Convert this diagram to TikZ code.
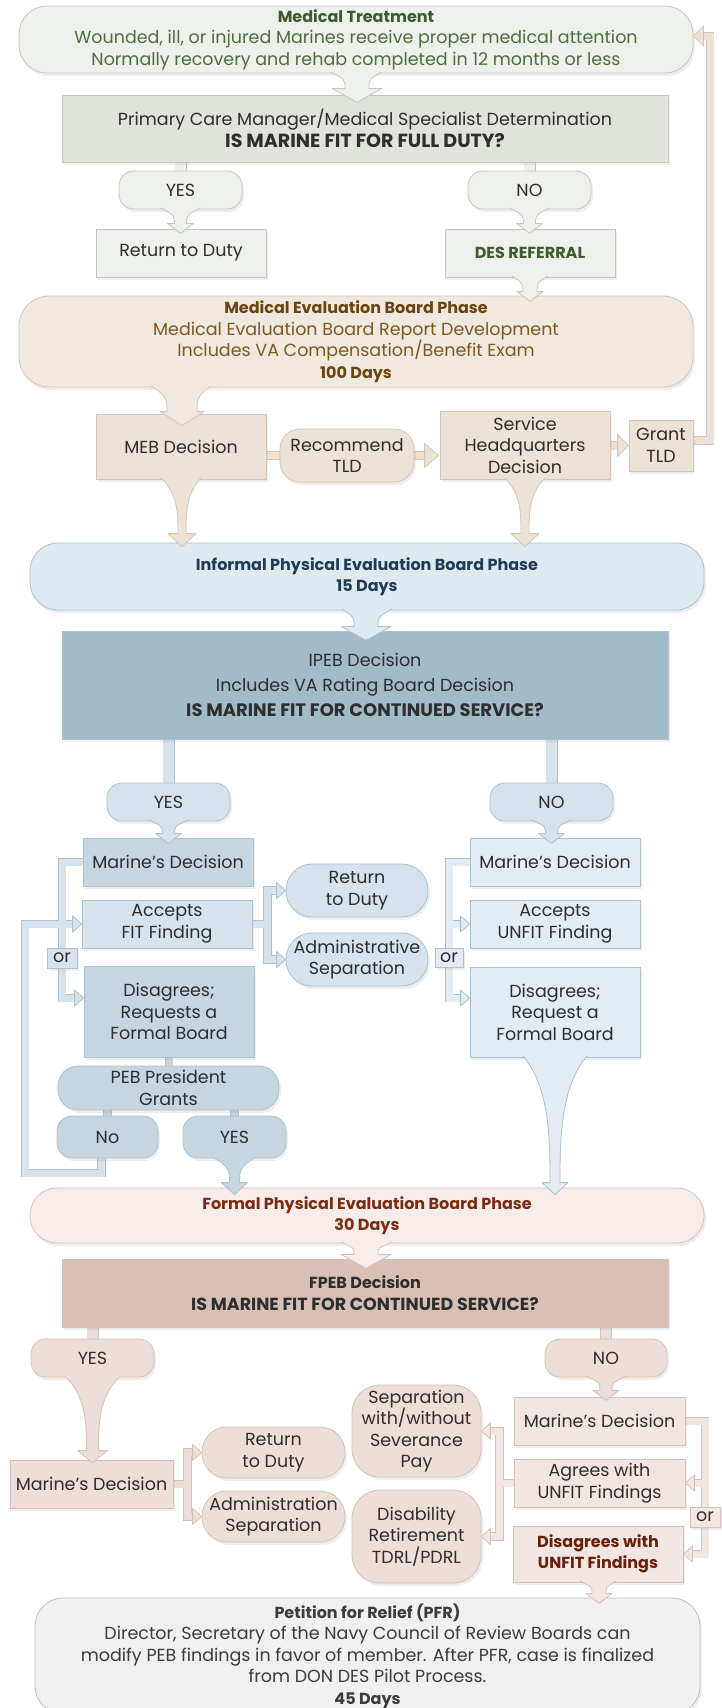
\documentclass[tikz,border=0pt]{standalone}
\usepackage{fontspec}
\setmainfont{Poppins}
\usetikzlibrary{calc,shadows}
\pgfdeclarelayer{bg}
\pgfsetlayers{bg,main}
\definecolor{gF}{HTML}{EEF0EC}
\definecolor{gF2}{HTML}{DFE3DB}
\definecolor{gB}{HTML}{C3C7BF}
\definecolor{gT}{HTML}{4E6E3E}
\definecolor{gTT}{HTML}{3C5C2C}
\definecolor{mF}{HTML}{F1E8DF}
\definecolor{mF2}{HTML}{ECE2D6}
\definecolor{mB}{HTML}{D2C6B9}
\definecolor{mT}{HTML}{7D5A22}
\definecolor{mTT}{HTML}{6B4510}
\definecolor{bF}{HTML}{DFE9F0}
\definecolor{bF2}{HTML}{A1BBC9}
\definecolor{bF3}{HTML}{C5D6E1}
\definecolor{bF4}{HTML}{D6E3EC}
\definecolor{bF5}{HTML}{E3ECF2}
\definecolor{bB}{HTML}{AFC1CD}
\definecolor{bT}{HTML}{1E3B58}
\definecolor{rF}{HTML}{F6EDEA}
\definecolor{rF2}{HTML}{D9C0B4}
\definecolor{rF3}{HTML}{EDDED7}
\definecolor{rF4}{HTML}{F1E6E1}
\definecolor{rB}{HTML}{D3C2BA}
\definecolor{rT}{HTML}{7B2C12}
\definecolor{rTT}{HTML}{6A1F0A}
\definecolor{pF}{HTML}{F0F0F0}
\definecolor{pB}{HTML}{C0C0C0}
\definecolor{pT}{HTML}{3C3C3C}
\definecolor{tx}{HTML}{2E2E2E}
\newcommand\fs{\fontsize{17.5}{21.5}\selectfont}
\newcommand\bt{\bfseries\fontsize{16}{21.5}\selectfont}
\newcommand\pipes[3]{\draw[#2, line width=8.6pt] #3; \draw[#1, line width=7pt] #3;}
\newcommand\pipesw[3]{\draw[#2, line width=12pt] #3; \draw[#1, line width=10.4pt] #3;}
\newcommand\ahead[6]{\filldraw[fill=#3, draw=#4, line width=0.8pt, line join=round, shift={(#1)}, rotate=#2] (0,0) -- (-#6,-#5) -- (-#6,#5) -- cycle;}
\newcommand\funnel[8]{%
 \fill[#1] let \p1=(#3), \p2=(#4) in (\x1-#5pt,\y1+1.5pt) .. controls (\x2-#6pt,{\y1-0.22*(\y1-\y2)}) and (\x2-#6pt,{\y2+#8pt+0.3*(\y1-\y2)}) .. (\x2-#6pt,\y2+#8pt) -- (\x2-#7pt,\y2+#8pt) -- (\x2,\y2) -- (\x2+#7pt,\y2+#8pt) -- (\x2+#6pt,\y2+#8pt) .. controls (\x2+#6pt,{\y2+#8pt+0.3*(\y1-\y2)}) and (\x2+#6pt,{\y1-0.22*(\y1-\y2)}) .. (\x1+#5pt,\y1+1.5pt) -- cycle;
 \draw[#2, line width=0.8pt, line join=round] let \p1=(#3), \p2=(#4) in (\x1-#5pt,\y1+1.5pt) .. controls (\x2-#6pt,{\y1-0.22*(\y1-\y2)}) and (\x2-#6pt,{\y2+#8pt+0.3*(\y1-\y2)}) .. (\x2-#6pt,\y2+#8pt) -- (\x2-#7pt,\y2+#8pt) -- (\x2,\y2) -- (\x2+#7pt,\y2+#8pt) -- (\x2+#6pt,\y2+#8pt) .. controls (\x2+#6pt,{\y2+#8pt+0.3*(\y1-\y2)}) and (\x2+#6pt,{\y1-0.22*(\y1-\y2)}) .. (\x1+#5pt,\y1+1.5pt);}
\tikzset{
 bx/.style 2 args={draw=#2, fill=#1, line width=0.8pt, inner sep=0pt, align=center, text=tx, font=\fs,
   drop shadow={opacity=0.13, shadow xshift=2pt, shadow yshift=-3pt}},
}
\begin{document}
\begin{tikzpicture}[x=1pt,y=-1pt]
\useasboundingbox (0,0) rectangle (722,1708);
\begin{pgfonlayer}{bg}
\fill[white] (0,0) rectangle (722,1708);
\end{pgfonlayer}
% ---------- green
\node[bx={gF}{gB}, rounded corners=28pt, minimum width=674pt, minimum height=67pt, text=gT] (med) at (356,39.5) {{\bt\color{gTT}Medical Treatment}\\Wounded, ill, or injured Marines receive proper medical attention\\Normally recovery and rehab completed in 12 months or less};
\node[bx={gF2}{gB}, minimum width=606pt, minimum height=67pt] (pcm) at (365,128.5) {Primary Care Manager/Medical Specialist Determination\\{\bfseries\fontsize{19}{21.5}\selectfont IS MARINE FIT FOR FULL DUTY?}};
\node[bx={gF}{gB}, rounded corners=15pt, minimum width=123pt, minimum height=38pt] (yes1) at (180.5,190) {YES};
\node[bx={gF}{gB}, rounded corners=15pt, minimum width=123pt, minimum height=38pt] (no1) at (529.5,190) {NO};
\node[bx={gF}{gB}, minimum width=170pt, minimum height=48pt] (rtd1) at (181,253) {Return to Duty};
\node[bx={gF}{gB}, minimum width=170pt, minimum height=48pt, text=gTT, font=\fs\bt] (des) at (530,253) {DES REFERRAL};
% ---------- MEB
\node[bx={mF}{mB}, rounded corners=30pt, minimum width=674pt, minimum height=91pt, text=mT] (meb) at (356,341.5) {{\bt\color{mTT}Medical Evaluation Board Phase}\\Medical Evaluation Board Report Development\\Includes VA Compensation/Benefit Exam\\{\bt\color{mTT}100 Days}};
\node[bx={mF2}{mB}, minimum width=170pt, minimum height=65pt] (mebd) at (181,446.5) {MEB Decision};
\node[bx={mF2}{mB}, rounded corners=20pt, minimum width=134pt, minimum height=53pt] (rtld) at (347,455.5) {Recommend\\TLD};
\node[bx={mF2}{mB}, minimum width=170pt, minimum height=68pt] (shq) at (525,445) {Service\\Headquarters\\Decision};
\node[bx={mF2}{mB}, minimum width=64pt, minimum height=51pt] (gtld) at (661,445.5) {Grant\\TLD};
% ---------- IPEB
\node[bx={bF}{bB}, rounded corners=28pt, minimum width=674pt, minimum height=67pt, text=bT, font=\fs\bt] (ipeb) at (367,576.5) {Informal Physical Evaluation Board Phase\\15 Days};
\node[bx={bF2}{bB}, minimum width=606pt, minimum height=108pt, font=\fontsize{17.5}{25}\selectfont] (ipebd) at (365,685) {IPEB Decision\\Includes VA Rating Board Decision\\{\bfseries\fontsize{18}{25}\selectfont IS MARINE FIT FOR CONTINUED SERVICE?}};
\node[bx={bF4}{bB}, rounded corners=15pt, minimum width=123pt, minimum height=38pt] (yes2) at (168.5,802) {YES};
\node[bx={bF4}{bB}, rounded corners=15pt, minimum width=123pt, minimum height=38pt] (no2) at (551.5,802) {NO};
\node[bx={bF3}{bB}, minimum width=170pt, minimum height=48pt] (md2L) at (168,862) {Marine's Decision};
\node[bx={bF4}{bB}, minimum width=170pt, minimum height=48pt] (acc2L) at (167,924) {Accepts\\FIT Finding};
\node[bx={bF3}{bB}, minimum width=170pt, minimum height=91pt] (dis2L) at (169,1011.5) {Disagrees;\\Requests a\\Formal Board};
\node[bx={bF4}{bB}, minimum width=30pt, minimum height=20pt] (orL) at (62,958) {or};
\node[bx={bF3}{bB}, rounded corners=20pt, minimum width=221pt, minimum height=44pt] (peb) at (168.5,1088) {PEB President\\Grants};
\node[bx={bF3}{bB}, rounded corners=15pt, minimum width=101pt, minimum height=42pt] (noP) at (107.5,1137) {No};
\node[bx={bF3}{bB}, rounded corners=15pt, minimum width=103pt, minimum height=42pt] (yesP) at (234.5,1137) {YES};
\node[bx={bF4}{bB}, rounded corners=26pt, minimum width=142pt, minimum height=53pt] (rtd2) at (357,890.5) {Return\\to Duty};
\node[bx={bF4}{bB}, rounded corners=26pt, minimum width=142pt, minimum height=53pt] (as2) at (357,959.5) {Administrative\\Separation};
\node[bx={bF5}{bB}, minimum width=170pt, minimum height=48pt] (md2R) at (555,862) {Marine's Decision};
\node[bx={bF5}{bB}, minimum width=170pt, minimum height=48pt] (acc2R) at (555,924) {Accepts\\UNFIT Finding};
\node[bx={bF5}{bB}, minimum width=170pt, minimum height=90pt] (dis2R) at (555,1012) {Disagrees;\\Request a\\Formal Board};
\node[bx={bF5}{bB}, minimum width=28pt, minimum height=19pt] (orR) at (449,957.5) {or};
% ---------- FPEB
\node[bx={rF}{rB}, rounded corners=27pt, minimum width=674pt, minimum height=55pt, text=rT, font=\fs\bt] (fpeb) at (367,1215.5) {Formal Physical Evaluation Board Phase\\30 Days};
\node[bx={rF2}{rB}, minimum width=606pt, minimum height=68pt, font=\fs\bt] (fpebd) at (365,1293) {FPEB Decision\\{\fontsize{17.5}{21.5}\selectfont IS MARINE FIT FOR CONTINUED SERVICE?}};
\node[bx={rF3}{rB}, rounded corners=15pt, minimum width=123pt, minimum height=38pt] (yes3) at (92.5,1358) {YES};
\node[bx={rF3}{rB}, rounded corners=15pt, minimum width=122pt, minimum height=38pt] (no3) at (606,1358) {NO};
\node[bx={rF3}{rB}, minimum width=163pt, minimum height=48pt] (md3L) at (91.5,1484) {Marine's Decision};
\node[bx={rF3}{rB}, rounded corners=25pt, minimum width=143pt, minimum height=51pt] (rtd3) at (273.5,1452.5) {Return\\to Duty};
\node[bx={rF3}{rB}, rounded corners=25pt, minimum width=143pt, minimum height=51pt] (as3) at (273.5,1516.5) {Administration\\Separation};
\node[bx={rF3}{rB}, rounded corners=28pt, minimum width=129pt, minimum height=92pt] (sep3) at (416.5,1431) {Separation\\with/without\\Severance\\Pay};
\node[bx={rF3}{rB}, rounded corners=28pt, minimum width=129pt, minimum height=93pt] (dr3) at (416.5,1536.5) {Disability\\Retirement\\TDRL/PDRL};
\node[bx={rF4}{rB}, minimum width=171pt, minimum height=48pt] (md3R) at (599.5,1421) {Marine's Decision};
\node[bx={rF4}{rB}, minimum width=171pt, minimum height=48pt] (ag3) at (599.5,1483) {Agrees with\\UNFIT Findings};
\node[bx={rF4}{rB}, minimum width=170pt, minimum height=56pt, text=rTT, font=\fs\bt] (dg3) at (598,1554) {Disagrees with\\UNFIT Findings};
\node[bx={rF4}{rB}, minimum width=30pt, minimum height=20pt] (or3) at (705,1517) {or};
% ---------- PFR
\node[bx={pF}{pB}, rounded corners=28pt, minimum width=665pt, minimum height=116pt, text=pT, font=\fontsize{17.5}{21.5}\selectfont] (pfr) at (367.5,1656) {{\bt Petition for Relief (PFR)}\\Director, Secretary of the Navy Council of Review Boards can\\modify PEB findings in favor of member. After PFR, case is finalized\\from DON DES Pilot Process.\\{\bt 45 Days}};
% ---------- pipes
\begin{pgfonlayer}{bg}
\pipesw{gF}{gB}{($(pcm.south -| yes1.north)+(0,-3)$) -- ($(yes1.north)+(0,3)$) ($(pcm.south -| no1.north)+(0,-3)$) -- ($(no1.north)+(0,3)$)}
\pipes{mF2}{mB}{($(mebd.east |- rtld.west)+(-3,0)$) -- ($(rtld.west)+(3,0)$)}
\pipes{mF2}{mB}{($(rtld.east)+(-3,0)$) -- ($(shq.west |- rtld.east)+(-8,0)$) ($(shq.east)+(-3,0)$) -- ($(gtld.west)+(-7,0)$)}
\coordinate (fb) at (710,36);
\pipes{mF2}{mB}{($(gtld.east)+(-3,-5)$) -| (fb) -- ($(med.east |- fb)+(7,0)$)}
\pipesw{bF4}{bB}{($(ipebd.south -| yes2.north)+(0,-3)$) -- ($(yes2.north)+(0,3)$) ($(ipebd.south -| no2.north)+(0,-3)$) -- ($(no2.north)+(0,3)$)}
\coordinate (dLin) at ($(dis2L.west)+(0,-13.5)$);
\coordinate (dRin) at ($(dis2R.west)+(0,-14)$);
\coordinate (loopA) at (25,1173);
\pipes{bF4}{bB}{($(md2L.west)+(3,0)$) -| (orL |- dLin) -- ($(dLin)+(-6,0)$) (orL |- acc2L.west) -- ($(acc2L.west)+(-6,0)$) ($(noP.south)+(-6,-4)$) |- (loopA) |- (orL |- acc2L.west)}
\pipes{bF5}{bB}{($(md2R.west)+(3,0)$) -| (orR |- dRin) -- ($(dRin)+(-6,0)$) (orR |- acc2R.west) -- ($(acc2R.west)+(-6,0)$)}
\coordinate (jL) at ($(acc2L.east)+(15,0)$);
\pipes{bF4}{bB}{($(acc2L.east)+(-3,0)$) -- (jL) ($(rtd2.west)+(-6,0)$) -| (jL |- as2.west) -- ($(as2.west)+(-6,0)$)}
\pipes{bF3}{bB}{($(dis2L.south)+(0,-3)$) -- ($(peb.north -| dis2L.south)+(0,3)$) ($(noP.north |- peb.south)+(0,-3)$) -- ($(noP.north)+(0,3)$) ($(yesP.north |- peb.south)+(0,-3)$) -- ($(yesP.north)+(0,3)$)}
\pipesw{rF3}{rB}{($(fpebd.south -| yes3.north)+(0,-3)$) -- ($(yes3.north)+(0,3)$) ($(fpebd.south -| no3.north)+(0,-3)$) -- ($(no3.north)+(0,3)$)}
\coordinate (j3) at ($(md3L.east)+(14,0)$);
\pipes{rF3}{rB}{($(md3L.east)+(-3,0)$) -- (j3) ($(rtd3.west)+(-6,0)$) -| (j3 |- as3.west) -- ($(as3.west)+(-6,0)$)}
\pipes{rF4}{rB}{($(md3R.east)+(-3,0)$) -| (or3 |- dg3.east) -- ($(dg3.east)+(6,0)$) (or3 |- ag3.east) -- ($(ag3.east)+(6,0)$)}
\coordinate (j5) at ($(ag3.west)+(-14,0)$);
\pipes{rF4}{rB}{($(ag3.west)+(3,0)$) -- (j5) ($(sep3.east)+(6,0)$) -| (j5 |- dr3.east) -- ($(dr3.east)+(6,0)$)}
\end{pgfonlayer}
% ---------- arrowheads
\ahead{$(shq.west |- rtld.east)+(-1,0)$}{0}{mF2}{mB}{12}{14}
\ahead{gtld.west}{0}{mF2}{mB}{11}{11}
\ahead{med.east |- fb}{180}{mF2}{mB}{10}{10}
\ahead{dLin}{0}{bF4}{bB}{8}{9}
\ahead{acc2L.west}{0}{bF4}{bB}{8}{9}
\ahead{dRin}{0}{bF5}{bB}{8}{9}
\ahead{acc2R.west}{0}{bF5}{bB}{8}{9}
\ahead{rtd2.west}{0}{bF4}{bB}{8}{9}
\ahead{as2.west}{0}{bF4}{bB}{8}{9}
\ahead{rtd3.west}{0}{rF3}{rB}{8}{9}
\ahead{as3.west}{0}{rF3}{rB}{8}{9}
\ahead{dg3.east}{180}{rF4}{rB}{8}{9}
\ahead{ag3.east}{180}{rF4}{rB}{8}{9}
\ahead{sep3.east}{180}{rF4}{rB}{8}{9}
\ahead{dr3.east}{180}{rF4}{rB}{8}{9}
% ---------- funnels
\funnel{gF}{gB}{med.south}{$(med.south)+(1,29)$}{25}{12}{25}{14}
\funnel{gF}{gB}{yes1.south}{$(yes1.south)+(0,24)$}{20}{6}{13}{10}
\funnel{gF}{gB}{no1.south}{$(no1.south)+(0,24)$}{20}{6}{13}{10}
\funnel{gF}{gB}{des.south}{$(des.south)+(0,24)$}{18}{7}{13}{10}
\funnel{mF}{mB}{meb.south -| mebd.north}{$(mebd.north)+(1,12)$}{30}{15}{22}{14}
\funnel{mF2}{mB}{mebd.south}{$(mebd.south |- ipeb.north)+(1,4)$}{20}{4}{14}{13}
\funnel{mF2}{mB}{shq.south}{$(shq.south |- ipeb.north)+(0,4)$}{20}{4}{14}{13}
\funnel{bF}{bB}{ipeb.south}{$(ipeb.south)+(-1,30)$}{25}{12}{25}{14}
\funnel{bF4}{bB}{yes2.south}{$(yes2.south)+(0,22)$}{20}{6}{13}{10}
\funnel{bF4}{bB}{no2.south}{$(no2.south)+(0,22)$}{20}{6}{13}{10}
\funnel{bF3}{bB}{yesP.south}{$(yesP.south |- fpeb.north)+(0,7)$}{22}{5}{13}{12}
\funnel{bF5}{bB}{dis2R.south}{$(dis2R.south |- fpeb.north)+(0,7)$}{32}{5}{13}{12}
\funnel{rF}{rB}{fpeb.south}{$(fpeb.south)+(-1,25)$}{25}{12}{25}{14}
\funnel{rF3}{rB}{yes3.south}{$(md3L.north)+(1,3)$}{28}{6}{15}{12}
\funnel{rF3}{rB}{no3.south}{$(no3.south)+(0,23)$}{20}{6}{13}{10}
\funnel{rF4}{rB}{dg3.south}{$(dg3.south)+(1,21)$}{18}{7}{13}{10}
\end{tikzpicture}
\end{document}
